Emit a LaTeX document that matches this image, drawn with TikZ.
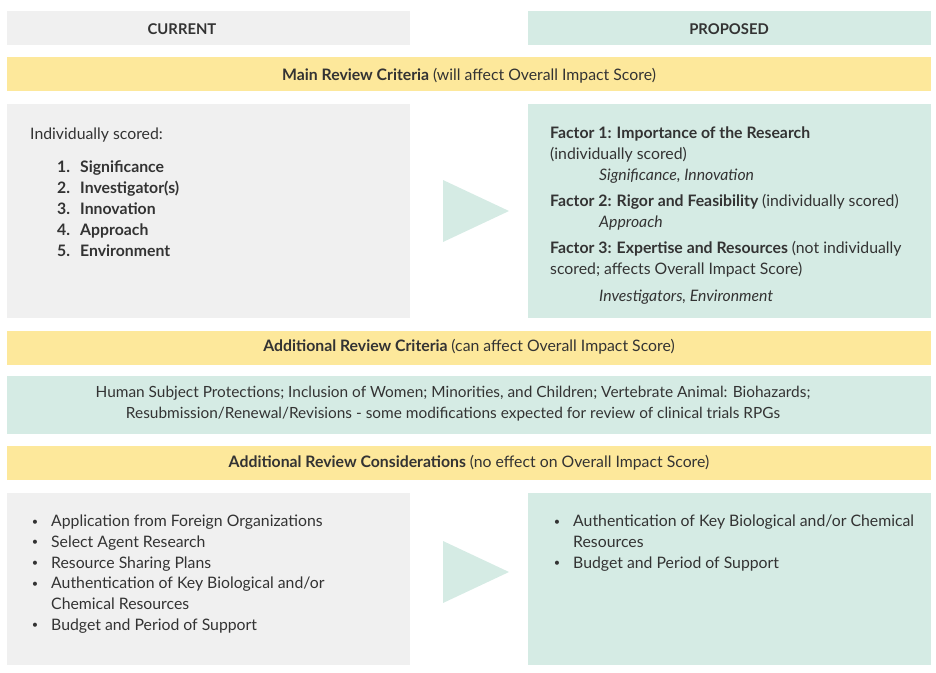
\documentclass[tikz,border=0pt]{standalone}
\usepackage{fontspec}
\setmainfont{Lato}
\usetikzlibrary{positioning}

\definecolor{greyfill}{HTML}{F0F0F0}
\definecolor{tealfill}{HTML}{D5EBE4}
\definecolor{bandfill}{HTML}{FDE89B}
\definecolor{inkgrey}{HTML}{333333}

\begin{document}
\begin{tikzpicture}[
    x=1pt, y=-1pt,
    box/.style={draw=none,inner sep=0pt,anchor=north west},
    greybox/.style={box,fill=greyfill,minimum width=403pt},
    tealbox/.style={box,fill=tealfill,minimum width=403pt},
    band/.style={box,fill=bandfill,minimum width=924pt,minimum height=34pt},
    txt/.style={inner sep=0pt,text=inkgrey,anchor=base west,font=\fontsize{15.8}{19}\selectfont},
    ctxt/.style={txt,anchor=base},
    bullet/.style={ctxt,font=\fontsize{11}{13}\selectfont},
    head/.style={ctxt,font=\fontsize{14.8}{17}\selectfont\bfseries},
    tri/.style={fill=tealfill,draw=none}
]
    \useasboundingbox (0,0) rectangle (936,672);

    % Column heads
    \node[greybox,minimum height=34pt] (cur) at (7,11) {};
    \node[tealbox,minimum height=34pt] (prop) at (528,11) {};
    \node[head] (curlabel) at (182,34) {CURRENT};
    \node[head] (proplabel) at (729,34) {PROPOSED};

    %%%%%%%%%%%%%%%%%%%%%%%%%%%%%%%%%%%%%%%%%%%%%%%%%%%%%%%%%%%%%%%%%%%%%%%%%%%%%%%%%%%%

    % Main review criteria
    \node[band] (mainband) at (7,57) {};
    \node[ctxt] (mainlabel) at (469,80) {\bfseries Main Review Criteria \mdseries(will affect Overall Impact Score)};

    \node[greybox,minimum height=214pt] (curmain) at (7,104) {};
    \node[tealbox,minimum height=214pt] (propmain) at (528,104) {};
    \fill[tri] (443,180) -- (509,211) -- (443,242) -- cycle;

    \node[txt] (scored) at (30,139) {Individually scored:};
    \foreach \name [count=\i] in {Significance, Investigator(s), Innovation, Approach, Environment} {
        \pgfmathsetmacro{\yb}{151.7 + 21*\i}
        \node[txt] (num\i) at (57,\yb) {\bfseries\i.};
        \node[txt] (crit\i) at (80,\yb) {\bfseries\name};
    }

    \node[txt] (fone) at (550,138) {\bfseries Factor 1: Importance of the Research};
    \node[txt] (foneb) at (550,159) {(individually scored)};
    \node[txt] (fonec) at (599,180) {\itshape Significance, Innovation};
    \node[txt] (ftwo) at (550,206) {\bfseries Factor 2: Rigor and Feasibility \mdseries(individually scored)};
    \node[txt] (ftwob) at (599,227) {\itshape Approach};
    \node[txt] (fthree) at (550,253) {\bfseries Factor 3: Expertise and Resources \mdseries(not individually};
    \node[txt] (fthreeb) at (550,274) {scored; affects Overall Impact Score)};
    \node[txt] (fthreec) at (599,301) {\itshape Investigators, Environment};

    %%%%%%%%%%%%%%%%%%%%%%%%%%%%%%%%%%%%%%%%%%%%%%%%%%%%%%%%%%%%%%%%%%%%%%%%%%%%%%%%%%%%

    % Additional review criteria
    \node[band] (addband) at (7,331) {};
    \node[ctxt] (addlabel) at (469,351) {\bfseries Additional Review Criteria \mdseries(can affect Overall Impact Score)};

    \node[tealbox,minimum width=924pt,minimum height=58pt] (addbox) at (7,376) {};
    \node[ctxt,font=\fontsize{15.4}{18}\selectfont] (addone) at (453,397) {Human Subject Protections; Inclusion of Women; Minorities, and Children; Vertebrate Animal: Biohazards;};
    \node[ctxt,font=\fontsize{15.4}{18}\selectfont] (addtwo) at (453,418.5) {Resubmission/Renewal/Revisions - some modifications expected for review of clinical trials RPGs};

    %%%%%%%%%%%%%%%%%%%%%%%%%%%%%%%%%%%%%%%%%%%%%%%%%%%%%%%%%%%%%%%%%%%%%%%%%%%%%%%%%%%%

    % Additional review considerations
    \node[band] (consband) at (7,446) {};
    \node[ctxt] (conslabel) at (469,467.5) {\bfseries Additional Review Considerations \mdseries(no effect on Overall Impact Score)};

    \node[greybox,minimum height=172pt] (curcons) at (7,493) {};
    \node[tealbox,minimum height=172pt] (propcons) at (528,493) {};
    \fill[tri] (443,541) -- (509,572) -- (443,603) -- cycle;

    \foreach \bul/\name [count=\i] in {{•}/{Application from Foreign Organizations}, {•}/{Select Agent Research}, {•}/{Resource Sharing Plans}, {•}/{Authentication of Key Biological and/or}, {}/{Chemical Resources}, {•}/{Budget and Period of Support}} {
        \pgfmathsetmacro{\yb}{506 + 20.7*\i}
        \node[bullet] (cbul\i) at (35,\yb-1.6) {\bul};
        \node[txt] (cur\i) at (51,\yb) {\name};
    }
    \foreach \bul/\name [count=\i] in {{•}/{Authentication of Key Biological and/or Chemical}, {}/{Resources}, {•}/{Budget and Period of Support}} {
        \pgfmathsetmacro{\yb}{506 + 20.7*\i}
        \node[bullet] (pbul\i) at (557,\yb-1.6) {\bul};
        \node[txt] (prop\i) at (573,\yb) {\name};
    }
\end{tikzpicture}
\end{document}
